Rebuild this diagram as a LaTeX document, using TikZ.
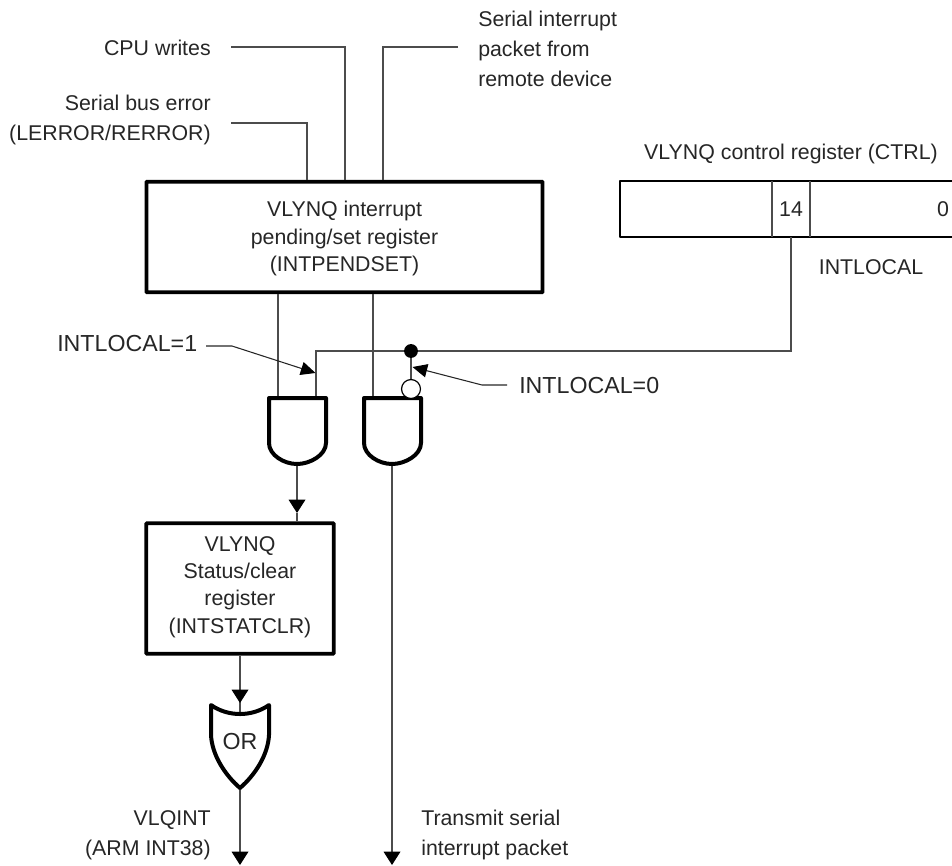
\documentclass[tikz,border=0pt]{standalone}
\usepackage{fontspec}
\setmainfont{Liberation Sans}
\usetikzlibrary{arrows.meta}
\tikzset{
  wire/.style={line width=1pt, black!70},
  flow/.style={wire, -{Stealth[length=10pt,width=12.5pt,inset=0pt,black]}},
  pointer/.style={line width=0.8pt, black!85, -{Stealth[length=11pt,width=10pt,inset=0pt,black]}},
  lbl/.style={inner sep=0pt, align=center, font=\fontsize{16}{20.5}\selectfont, text=black!85},
  toplbl/.style={lbl, font=\fontsize{16}{22.5}\selectfont},
  biglbl/.style={lbl, font=\fontsize{17.4}{20.5}\selectfont},
  regbox/.style={draw, line width=2.8pt, rectangle, lbl, rounded corners=0.5pt},
  gate/.style={draw, line width=3pt, line join=round, fill=white},
  cell/.style={line width=0.9pt, black!70},
}
\begin{document}
\begin{tikzpicture}[x=0.75pt, y=-0.75pt]
  \useasboundingbox (0,0) rectangle (952,865);

  % Boxes
  \draw (344.5,237) node(Pend) [regbox, minimum width=297pt, minimum height=83pt] {};
  \draw (344.5,238.5) node(PendT) [lbl] {VLYNQ interrupt\\pending/set register\\(INTPENDSET)};
  \draw (240,588.5) node(Stat) [regbox, minimum width=140.5pt, minimum height=98pt] {};
  \draw (240,587) node(StatT) [lbl] {VLYNQ\\Status/clear\\register\\(INTSTATCLR)};

  % Control register
  \draw[line width=2pt, line join=round] (952,181) -- (620,181) -- (620,237) -- (952,237);
  \draw[cell] (772,181) -- (772,237);
  \draw[cell] (810,181) -- (810,237);
  \draw (791,154) node(CtrlT) [lbl] {VLYNQ control register (CTRL)};
  \draw (791,209) node(Bit14) [lbl] {14};
  \draw (943,209) node(Bit0) [lbl] {0};
  \draw (871,267) node(CtrlL) [lbl] {INTLOCAL};

  % Labels
  \draw (211,48) node(Cpu) [toplbl, anchor=east] {CPU writes};
  \draw (211,120) node(Err) [toplbl, anchor=east, align=right] {Serial bus error\\(LERROR/RERROR)};
  \draw (478,49) node(Rem) [toplbl, anchor=west, align=left] {Serial interrupt\\packet from\\remote device};
  \draw (57,344) node(Loc1) [biglbl, anchor=west] {INTLOCAL=1};
  \draw (519,386) node(Loc0) [biglbl, anchor=west] {INTLOCAL=0};
  \draw (211,835) node(Vlq) [toplbl, anchor=east, align=right] {VLQINT\\(ARM INT38)};
  \draw (421,835) node(Tx) [toplbl, anchor=west, align=left] {Transmit serial\\interrupt packet};

  % Connection points
  \coordinate (ErrEnd) at (231,123);
  \coordinate (CpuEnd) at (231,47);
  \coordinate (RemEnd) at (458,47);
  \coordinate (GateAi) at (278,398);
  \coordinate (GateAj) at (316,398);
  \coordinate (GateBi) at (373,398);
  \coordinate (GateAo) at (297,464);
  \coordinate (GateBo) at (392,464);
  \coordinate (Bub) at (411,389);
  \coordinate (Dot) at (411,351);
  \coordinate (CtrlOut) at (791,237);
  \coordinate (TipA) at (297,513);
  \coordinate (TipO) at (240,703);
  \coordinate (OrIn) at (240,714);
  \coordinate (OrOut) at (240,788);
  \coordinate (EndA) at (240,865);
  \coordinate (EndB) at (392,865);
  \coordinate (Pone) at (206,346);
  \coordinate (Pzero) at (507,385);

  % Edges
  \draw[wire] (ErrEnd) -- (307,123) -- (Pend.north -| 307,0);
  \draw[wire] (CpuEnd) -- (345,47) -- (Pend.north -| 345,0);
  \draw[wire] (RemEnd) -- (383,47) -- (Pend.north -| 383,0);
  \draw[wire] (Pend.south -| GateAi) -- (GateAi);
  \draw[wire] (Pend.south -| GateBi) -- (GateBi);
  \draw[wire] (CtrlOut) -- (791,351) -- (316,351) -- (GateAj);
  \draw[wire] (Dot) -- (Bub);
  \draw[wire] (TipA) -- (Stat.north -| TipA);
  \draw[flow] (GateAo) -- (TipA);
  \draw[wire] (Stat.south) -- (OrIn);
  \draw[flow] (Stat.south) -- (TipO);
  \draw[flow] (OrOut) -- (EndA);
  \draw[flow] (GateBo) -- (EndB);
  \draw[pointer] (Pone) -- (232,346) -- (315.5,373);
  \draw[pointer] (Pzero) -- (482,385) -- (412.5,367);

  % Gates
  \draw[gate] (269,398) -- (326,398) -- (326,443) .. controls (326,455) and (310,464) .. (GateAo) .. controls (284,464) and (269,455) .. (269,443) -- cycle;
  \draw[gate] (364,398) -- (421,398) -- (421,443) .. controls (421,455) and (405,464) .. (GateBo) .. controls (379,464) and (364,455) .. (364,443) -- cycle;
  \draw[gate] (211,705) .. controls (228,717) and (252,717) .. (269,705) -- (269,735) .. controls (268,755) and (255,775) .. (OrOut) .. controls (225,775) and (212,755) .. (211,735) -- cycle;
  \draw (240,741) node(OrT) [biglbl] {OR};
  \draw[line width=0.9pt, fill=white] (Bub) circle (7.1pt);
  \fill (Dot) circle (5.2pt);
\end{tikzpicture}
\end{document}
